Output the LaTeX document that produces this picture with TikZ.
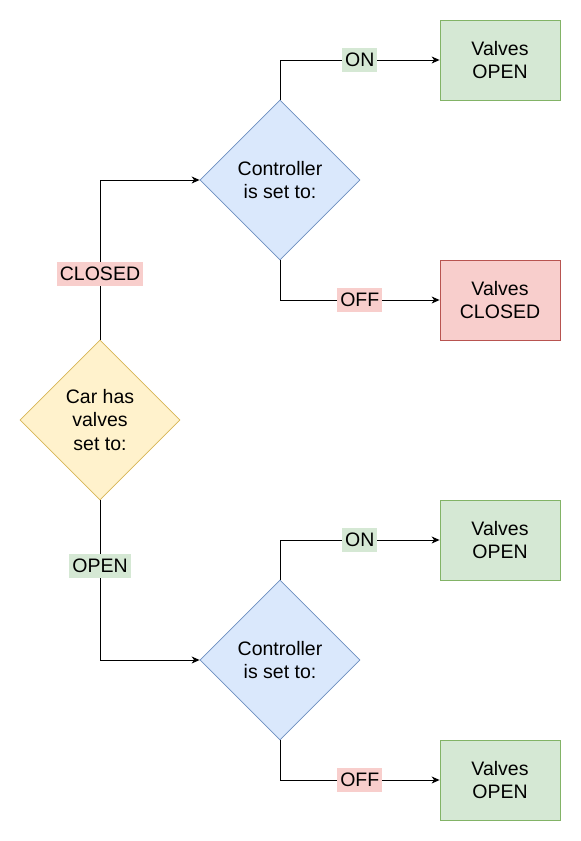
\documentclass[tikz,border=0pt]{standalone}
\usepackage{fontspec}
\setmainfont{Liberation Sans}
\usetikzlibrary{shapes.geometric,arrows.meta}
\definecolor{gfill}{HTML}{D5E8D4}\definecolor{gdraw}{HTML}{82B366}
\definecolor{rfill}{HTML}{F8CECC}\definecolor{rdraw}{HTML}{B85450}
\definecolor{bfill}{HTML}{DAE8FC}\definecolor{bdraw}{HTML}{6C8EBF}
\definecolor{yfill}{HTML}{FFF2CC}\definecolor{ydraw}{HTML}{D6B656}
\tikzset{
  every node/.style={font=\fontsize{19.5}{23.4}\selectfont, align=center},
  dia/.style={diamond, aspect=1, minimum width=160pt, minimum height=160pt, inner sep=0pt, line width=0.8pt},
  outbox/.style={rectangle, minimum width=120pt, minimum height=80pt, inner sep=0pt, line width=0.8pt},
  greenbox/.style={outbox, fill=gfill, draw=gdraw},
  redbox/.style={outbox, fill=rfill, draw=rdraw},
  lbl/.style={anchor=center, inner xsep=3pt, inner ysep=2pt, text depth=3.5pt, text height=16.5pt},
  glbl/.style={lbl, fill=gfill},
  rlbl/.style={lbl, fill=rfill},
  conn/.style={line width=0.9pt, -{Stealth[length=8pt,width=7pt,inset=2.5pt]}}
}
\begin{document}
\begin{tikzpicture}[x=1pt,y=-1pt]
\useasboundingbox (0,0) rectangle (581,841);
\node[dia, fill=yfill, draw=ydraw] (car) at (100,420) {Car has\\valves\\set to:};
\node[dia, fill=bfill, draw=bdraw] (c1) at (280,180) {Controller\\is set to:};
\node[dia, fill=bfill, draw=bdraw] (c2) at (280,660) {Controller\\is set to:};
\node[greenbox] (b1) at (500,60) {Valves\\OPEN};
\node[redbox] (b2) at (500,300) {Valves\\CLOSED};
\node[greenbox] (b3) at (500,540) {Valves\\OPEN};
\node[greenbox] (b4) at (500,780) {Valves\\OPEN};
\draw[conn] (car.north) |- node[rlbl, pos=0.206] {CLOSED} (c1.west);
\draw[conn] (car.south) |- node[glbl, pos=0.206] {OPEN} (c2.west);
\draw[conn] (c1.north) |- node[glbl, pos=0.75] {ON} (b1.west);
\draw[conn] (c1.south) |- node[rlbl, pos=0.75] {OFF} (b2.west);
\draw[conn] (c2.north) |- node[glbl, pos=0.75] {ON} (b3.west);
\draw[conn] (c2.south) |- node[rlbl, pos=0.75] {OFF} (b4.west);
\end{tikzpicture}
\end{document}
